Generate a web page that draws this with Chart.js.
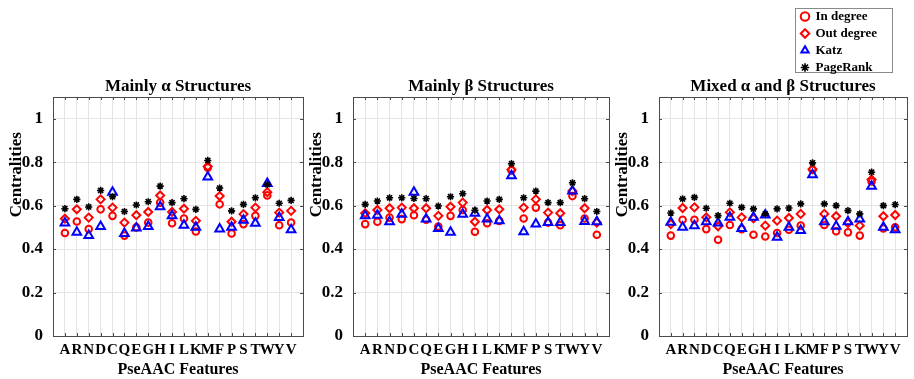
<!DOCTYPE html>
<html>
<head>
<meta charset="utf-8">
<script src="https://cdn.jsdelivr.net/npm/chart.js@4.4.0/dist/chart.umd.min.js"></script>
<style>
  html, body { margin: 0; padding: 0; background: #fff; }
  body { width: 914px; height: 379px; position: relative; overflow: hidden; }
  .plot { position: absolute; top: 0; height: 379px; }
  #legendBox { position: absolute; left: 795px; top: 8px; width: 96px; height: 63px; border: 1px solid #8a8a8a; }
  #legendWrap { position: absolute; left: 797px; top: 6px; width: 94px; height: 160px; }
</style>
</head>
<body>
<div class="plot" style="left:0px;width:310px"><canvas id="alphaChart"></canvas></div>
<div class="plot" style="left:305px;width:311px"><canvas id="betaChart"></canvas></div>
<div class="plot" style="left:612px;width:302px"><canvas id="mixedChart"></canvas></div>
<div id="legendBox"></div>
<div id="legendWrap"><canvas id="legendChart"></canvas></div>
<script>
// Amino acid order on the x axis
const aminoAcids = ['A', 'R', 'N', 'D', 'C', 'Q', 'E', 'G', 'H', 'I', 'L', 'K', 'M', 'F', 'P', 'S', 'T', 'W', 'Y', 'V'];
const yTickValues = [0, 0.2, 0.4, 0.6, 0.8, 1];

// Mainly alpha structures
const alphaIn   = [0.474, 0.527, 0.492, 0.583, 0.553, 0.462, 0.500, 0.522, 0.614, 0.519, 0.541, 0.481, 0.775, 0.606, 0.472, 0.515, 0.553, 0.647, 0.510, 0.522];
const alphaOut  = [0.540, 0.583, 0.545, 0.629, 0.591, 0.522, 0.556, 0.571, 0.647, 0.571, 0.586, 0.530, 0.780, 0.644, 0.526, 0.561, 0.591, 0.662, 0.568, 0.576];
const alphaKatz = [0.520, 0.477, 0.462, 0.504, 0.662, 0.472, 0.497, 0.504, 0.595, 0.553, 0.510, 0.500, 0.732, 0.492, 0.500, 0.533, 0.519, 0.702, 0.545, 0.489];
const alphaPR   = [0.586, 0.629, 0.594, 0.670, 0.641, 0.573, 0.603, 0.618, 0.690, 0.614, 0.632, 0.583, 0.808, 0.681, 0.576, 0.606, 0.636, 0.697, 0.611, 0.624];

// Mainly beta structures
const betaIn   = [0.515, 0.526, 0.545, 0.538, 0.556, 0.535, 0.504, 0.553, 0.580, 0.480, 0.519, 0.530, 0.763, 0.541, 0.591, 0.522, 0.510, 0.644, 0.541, 0.466];
const betaOut  = [0.565, 0.580, 0.588, 0.591, 0.588, 0.588, 0.553, 0.595, 0.614, 0.526, 0.580, 0.583, 0.765, 0.591, 0.629, 0.568, 0.565, 0.667, 0.588, 0.522];
const betaKatz = [0.553, 0.556, 0.526, 0.560, 0.662, 0.538, 0.495, 0.477, 0.560, 0.565, 0.538, 0.530, 0.738, 0.480, 0.515, 0.522, 0.522, 0.667, 0.527, 0.526];
const betaPR   = [0.606, 0.621, 0.636, 0.636, 0.633, 0.632, 0.598, 0.641, 0.655, 0.579, 0.621, 0.629, 0.793, 0.636, 0.667, 0.614, 0.614, 0.705, 0.632, 0.573];

// Mixed alpha and beta structures
const mixedIn   = [0.462, 0.535, 0.535, 0.492, 0.443, 0.511, 0.492, 0.466, 0.458, 0.474, 0.489, 0.508, 0.765, 0.511, 0.482, 0.477, 0.462, 0.711, 0.495, 0.500];
const mixedOut  = [0.515, 0.589, 0.592, 0.546, 0.505, 0.569, 0.546, 0.542, 0.508, 0.531, 0.543, 0.562, 0.768, 0.562, 0.551, 0.520, 0.508, 0.720, 0.551, 0.557];
const mixedKatz = [0.523, 0.500, 0.508, 0.526, 0.520, 0.546, 0.495, 0.546, 0.557, 0.454, 0.500, 0.485, 0.742, 0.526, 0.505, 0.526, 0.538, 0.689, 0.500, 0.489];
const mixedPR   = [0.566, 0.631, 0.638, 0.588, 0.554, 0.611, 0.592, 0.585, 0.562, 0.585, 0.589, 0.608, 0.797, 0.608, 0.600, 0.577, 0.562, 0.754, 0.600, 0.605];

const serif = '"Liberation Serif", "Times New Roman", serif';

// Series look (MATLAB style markers), later series drawn on top
const seriesStyles = [
    { label: 'In degree',  pointStyle: 'circle',   color: '#ff0000', radius: 3.3, width: 2,   order: 4 },
    { label: 'Out degree', pointStyle: 'rectRot',  color: '#ff0000', radius: 4,   width: 2,   order: 3 },
    { label: 'Katz',       pointStyle: 'triangle', color: '#0000ff', radius: 5,   width: 2,   order: 2 },
    { label: 'PageRank',   pointStyle: 'star',     color: '#000000', radius: 3.6, width: 1.6, order: 1 }
];

function toPoints(values) {
    return values.map((v, i) => ({ x: i + 1, y: v }));
}

function buildDatasets(seriesList) {
    return seriesStyles.map((s, k) => ({
        label: s.label,
        data: seriesList ? toPoints(seriesList[k]) : [],
        pointStyle: s.pointStyle,
        pointRadius: s.radius,
        pointHoverRadius: s.radius,
        borderColor: s.color,
        backgroundColor: 'rgba(0,0,0,0)',
        borderWidth: s.width,
        order: s.order
    }));
}

// Box around the axes, inward ticks and the y label
const axesFrame = {
    id: 'axesFrame',
    afterDraw(chart) {
        const { ctx, chartArea: a, scales: { x, y } } = chart;
        ctx.save();
        ctx.strokeStyle = '#4a4a4a';
        ctx.lineWidth = 1;
        ctx.strokeRect(Math.round(a.left) + 0.5, Math.round(a.top) + 0.5, Math.round(a.width), Math.round(a.height));
        ctx.beginPath();
        for (let i = 1; i <= aminoAcids.length; i++) {
            const px = Math.round(x.getPixelForValue(i)) + 0.5;
            ctx.moveTo(px, a.bottom); ctx.lineTo(px, a.bottom - 3);
            ctx.moveTo(px, a.top); ctx.lineTo(px, a.top + 3);
        }
        yTickValues.forEach(v => {
            const py = Math.round(y.getPixelForValue(v)) + 0.5;
            ctx.moveTo(a.left, py); ctx.lineTo(a.left + 3, py);
            ctx.moveTo(a.right, py); ctx.lineTo(a.right - 3, py);
        });
        ctx.stroke();

        ctx.translate(a.left - 36, a.top + a.height * 0.325);
        ctx.rotate(-Math.PI / 2);
        ctx.font = 'bold 17px ' + serif;
        ctx.fillStyle = '#000';
        ctx.textAlign = 'center';
        ctx.textBaseline = 'middle';
        ctx.fillText('Centralities', 0, 0);
        ctx.restore();
    }
};

function makePlot(canvasId, title, seriesList, axisWidth, padRight) {
    const ctx = document.getElementById(canvasId).getContext('2d');
    return new Chart(ctx, {
        type: 'scatter',
        data: { datasets: buildDatasets(seriesList) },
        options: {
            responsive: true,
            maintainAspectRatio: false,
            animation: false,
            events: [],
            layout: { padding: { top: 76.6, right: padRight, bottom: 0, left: 0 } },
            plugins: {
                legend: { display: false },
                tooltip: { enabled: false },
                title: {
                    display: true,
                    text: title,
                    fullSize: false,
                    color: '#000',
                    font: { family: serif, size: 17, weight: 'bold' },
                    padding: { top: 0, bottom: 0 }
                }
            },
            scales: {
                x: {
                    type: 'linear',
                    min: 0,
                    max: 21,
                    afterFit: scale => { scale.height = 43; },
                    border: { display: false },
                    grid: { color: '#e4e4e4', drawTicks: false },
                    ticks: {
                        stepSize: 1,
                        autoSkip: false,
                        maxRotation: 0,
                        padding: 5,
                        color: '#000',
                        font: { family: serif, size: 15, weight: 'bold' },
                        callback: v => aminoAcids[v - 1] || ''
                    },
                    title: {
                        display: true,
                        text: 'PseAAC Features',
                        color: '#000',
                        font: { family: serif, size: 16, weight: 'bold' },
                        padding: { top: 0, bottom: 0 }
                    }
                },
                y: {
                    min: 0,
                    max: 1.1,
                    afterFit: scale => { scale.width = axisWidth; },
                    border: { display: false },
                    grid: { color: '#e4e4e4', drawTicks: false },
                    ticks: {
                        stepSize: 0.2,
                        includeBounds: false,
                        padding: 10,
                        color: '#000',
                        font: { family: serif, size: 17, weight: 'bold' },
                        callback: v => String(+v.toFixed(1))
                    }
                }
            }
        },
        plugins: [axesFrame]
    });
}

makePlot('alphaChart', 'Mainly \u03b1 Structures', [alphaIn, alphaOut, alphaKatz, alphaPR], 53, 6);
makePlot('betaChart', 'Mainly \u03b2 Structures', [betaIn, betaOut, betaKatz, betaPR], 48, 5);
makePlot('mixedChart', 'Mixed \u03b1 and \u03b2 Structures', [mixedIn, mixedOut, mixedKatz, mixedPR], 47, 1);

// Legend on its own small canvas
new Chart(document.getElementById('legendChart').getContext('2d'), {
    type: 'scatter',
    data: { datasets: buildDatasets(null) },
    options: {
        responsive: true,
        maintainAspectRatio: false,
        animation: false,
        events: [],
        layout: { padding: 0 },
        scales: { x: { display: false }, y: { display: false } },
        plugins: {
            tooltip: { enabled: false },
            legend: {
                display: true,
                position: 'top',
                align: 'start',
                labels: {
                    usePointStyle: true,
                    boxWidth: 8,
                    boxHeight: 6,
                    padding: 4,
                    color: '#000',
                    font: { family: serif, size: 13, weight: 'bold' },
                    sort: (a, b) => a.datasetIndex - b.datasetIndex
                }
            }
        }
    }
});
</script>
</body>
</html>
